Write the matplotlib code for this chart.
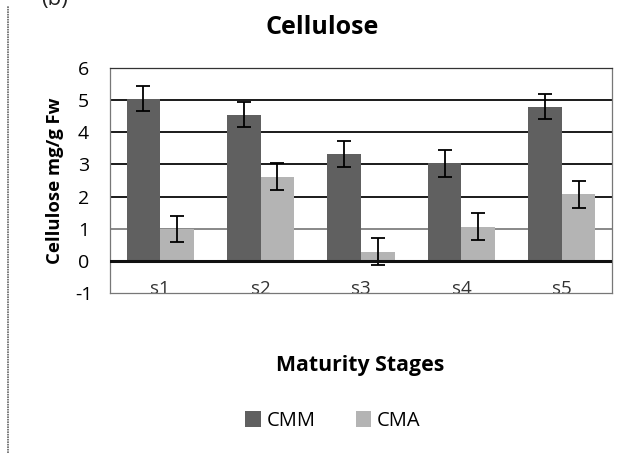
import numpy as np
import matplotlib.pyplot as plt
from matplotlib.patches import Patch

plt.rcParams['font.family'] = ['Open Sans', 'DejaVu Sans']

stages = ['s1', 's2', 's3', 's4', 's5']
cmm = [5.05, 4.55, 3.33, 3.03, 4.8]
cmm_err = [0.4, 0.4, 0.4, 0.42, 0.4]
cma = [1.0, 2.62, 0.29, 1.06, 2.08]
cma_err = [0.41, 0.43, 0.41, 0.42, 0.42]

dark = '#606060'
light = '#b4b4b4'

fig = plt.figure(figsize=(6.23, 4.55), dpi=100)
ax = fig.add_axes([110 / 623, 1 - 293 / 455, 502 / 623, 225 / 455])

x = np.arange(len(stages))
w = 0.335
err_kw = dict(ecolor='black', elinewidth=1.3, capsize=5, capthick=1.3)
ax.bar(x - w / 2, cmm, w, yerr=cmm_err, color=dark, error_kw=err_kw, zorder=3)
ax.bar(x + w / 2, cma, w, yerr=cma_err, color=light, error_kw=err_kw, zorder=3)

ax.set_xlim(-0.5, 4.5)
ax.set_ylim(-1, 6)
ax.set_yticks(range(-1, 7))
ax.set_yticklabels([str(v) for v in range(-1, 7)], fontsize=14, ha='center')
ax.tick_params(axis='y', length=0, pad=19)

ax.set_xticks(x)
ax.set_xticklabels(stages, fontsize=13.5, color='#333333')
ax.tick_params(axis='x', length=0, pad=-9)

# gridlines
for v in range(1, 6):
    ax.axhline(v, color='#888888' if v == 1 else '#1a1a1a', lw=1.4, zorder=1)
ax.axhline(0, color='#111111', lw=2.2, zorder=4)

for s in ['left', 'right', 'top', 'bottom']:
    ax.spines[s].set_color('#777777')
    ax.spines[s].set_linewidth(0.9)
ax.spines['top'].set_color('#333333')

ax.set_ylabel('Cellulose mg/g Fw', fontsize=13.3, fontweight='bold', labelpad=8)
fig.text(322 / 623, 1 - 27 / 455, 'Cellulose', ha='center', va='center',
         fontsize=18, fontweight='bold')
fig.text(360 / 623, 1 - 365 / 455, 'Maturity Stages', ha='center', va='center',
         fontsize=15.3, fontweight='bold')

handles = [Patch(facecolor=dark, label='CMM'), Patch(facecolor=light, label='CMA')]
fig.legend(handles=handles, loc='center', bbox_to_anchor=(333 / 623, 1 - 421 / 455),
           ncol=2, frameon=False, fontsize=14.5, handlelength=0.75, handleheight=0.85,
           handletextpad=0.3, columnspacing=2.0)

# panel frame and label from the source figure
fig.add_artist(plt.Line2D([8 / 623, 8 / 623], [0.005, 1 - 6 / 455],
                          color='#666666', lw=1.2, ls=(0, (1, 0.5))))
fig.text(55 / 623, 1.0, '(b)', ha='center', va='center', fontsize=16, color='#222222')

fig.savefig('out.png', dpi=100)
